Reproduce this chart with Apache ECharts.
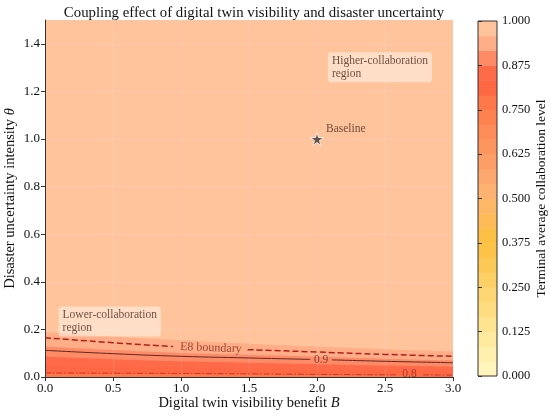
<!DOCTYPE html>
<html>
<head>
<meta charset="utf-8">
<script src="https://cdn.jsdelivr.net/npm/echarts@6/dist/echarts.min.js"></script>
<style>
  html, body { margin: 0; padding: 0; background: #fff; }
  #chart { width: 550px; height: 416px; }
</style>
</head>
<body>
<div id="chart"></div>
<script>
// colour levels of the filled contours, from 0.000 (bottom) to 1.000 (top), 24 bands
var cmapColors = [
  '#FFF5BD', '#FFF0AE', '#FEEA9F', '#FEE491', '#FEDD82', '#FED674',
  '#FDD066', '#FDC956', '#FDC248', '#FCC044', '#FDBC58', '#FDB766',
  '#FDB272', '#FDA86E', '#FD9E66', '#FD955E', '#FE8C58', '#FE8250',
  '#FF7849', '#FF6842', '#FF6A48', '#FF8A66', '#FFAE88', '#FFC49C'
];
var cbTicks = [0, 0.125, 0.25, 0.375, 0.5, 0.625, 0.75, 0.875, 1];
var xTicks = [0, 0.5, 1, 1.5, 2, 2.5, 3];
var yTicks = [0, 0.2, 0.4, 0.6, 0.8, 1.0, 1.2, 1.4];

// digital twin benefit B where the band edges were read
var benefitGrid = [0, 0.5, 1.0, 1.5, 2.0, 2.5, 3.0];
// theta of each filled-contour edge along benefitGrid
var edge958 = [0.188, 0.170, 0.154, 0.140, 0.128, 0.117, 0.108];
var edge917 = [0.128, 0.113, 0.101, 0.093, 0.085, 0.077, 0.070];
var edge875 = [0.085, 0.075, 0.066, 0.060, 0.054, 0.048, 0.043];
var edge833 = [0.050, 0.044, 0.039, 0.035, 0.031, 0.028, 0.025];
var edge792 = [0.014, 0.013, 0.012, 0.010, 0.008, 0.006, 0.005];

// contour lines [B, theta], '-' = gap left for the inline label
var lineE8 = [[0, 0.165], [0.5, 0.144], [0.94, 0.128], [1.2, '-'], [1.49, 0.115], [2.0, 0.105], [2.5, 0.095], [3.0, 0.087]];
var line09 = [[0, 0.112], [0.5, 0.098], [1.0, 0.087], [1.5, 0.080], [1.95, 0.074], [2.03, '-'], [2.11, 0.072], [2.5, 0.066], [3.0, 0.060]];
var line08 = [[0, 0.017], [0.5, 0.016], [1.0, 0.015], [1.5, 0.013], [2.0, 0.011], [2.58, 0.009], [2.68, '-'], [2.78, 0.009], [3.0, 0.008]];

var baseline = [2.0, 1.0];

var FONT = "'Liberation Serif', 'DejaVu Serif', serif";
var chart = echarts.init(document.getElementById('chart'));

function pairs(vals) {
  return benefitGrid.map(function (b, i) { return [b, vals[i]]; });
}

// area under each edge, painted top edge first so lower bands sit on top
var edges = [
  { v: edge958, band: 22 },
  { v: edge917, band: 21 },
  { v: edge875, band: 20 },
  { v: edge833, band: 19 },
  { v: edge792, band: 18 }
];
var bandSeries = edges.map(function (e) {
  return {
    type: 'line', xAxisIndex: 0, yAxisIndex: 0,
    data: pairs(e.v), smooth: true, symbol: 'none', silent: true,
    lineStyle: { width: 0 },
    areaStyle: { color: cmapColors[e.band], opacity: 1, origin: 'start' },
    z: 1
  };
});

var cbData = cmapColors.map(function (c, i) { return [i / cmapColors.length, (i + 1) / cmapColors.length]; });

var starPath = 'path://M50,0 L61,35 L98,35 L68,57 L79,91 L50,70 L21,91 L32,57 L2,35 L39,35 Z';

function noteLabel(text) {
  return {
    show: true, position: 'right', distance: 0,
    formatter: text,
    fontFamily: FONT, fontSize: 11.5, color: '#4a2a1e', lineHeight: 13,
    backgroundColor: 'rgba(255,255,255,0.55)', borderRadius: 3,
    padding: [2, 4, 2, 4]
  };
}

var nameStyle = {
  fontFamily: FONT, fontSize: 14.5, color: '#111',
  rich: { i: { fontFamily: FONT, fontSize: 14.5, fontStyle: 'italic', color: '#111' } }
};

var option = {
  animation: false,
  backgroundColor: '#fff',
  title: {
    text: 'Coupling effect of digital twin visibility and disaster uncertainty',
    left: 249, top: 1, textAlign: 'center',
    textStyle: { fontFamily: FONT, fontSize: 14.8, fontWeight: 'normal', color: '#111' }
  },
  grid: [
    { left: 45, right: 97, top: 20, bottom: 39, outerBoundsMode: 'none', containLabel: false,
      show: true, backgroundColor: cmapColors[23], borderWidth: 0 },
    { left: 478, width: 19, top: 21, bottom: 40, outerBoundsMode: 'none', containLabel: false,
      show: true, backgroundColor: 'transparent', borderColor: '#333', borderWidth: 1, z: 5 }
  ],
  xAxis: [
    {
      type: 'value', gridIndex: 0, min: 0, max: 3, interval: 0.5, z: 3,
      name: 'Digital twin visibility benefit {i|B}', nameLocation: 'middle', nameGap: 19, nameMoveOverlap: false,
      nameTextStyle: nameStyle,
      axisLine: { show: true, onZero: false, lineStyle: { color: '#333', width: 1 } },
      axisTick: { show: true, length: 4, lineStyle: { color: '#333' } },
      axisLabel: { fontFamily: FONT, fontSize: 13, color: '#111', margin: 5, formatter: function (v) { return v.toFixed(1); } },
      splitLine: { show: true, lineStyle: { color: 'rgba(255,255,255,0.16)', width: 0.8 } }
    },
    { type: 'value', gridIndex: 1, min: 0, max: 1, show: false }
  ],
  yAxis: [
    {
      type: 'value', gridIndex: 0, min: 0, max: 1.5, interval: 0.2, z: 3,
      name: 'Disaster uncertainty intensity {i|θ}', nameLocation: 'middle', nameGap: 27, nameMoveOverlap: false,
      nameTextStyle: nameStyle,
      axisLine: { show: true, onZero: false, lineStyle: { color: '#333', width: 1 } },
      axisTick: { show: true, length: 4, lineStyle: { color: '#333' }, customValues: yTicks },
      axisLabel: { fontFamily: FONT, fontSize: 13, color: '#111', margin: 5, customValues: yTicks, formatter: function (v) { return v.toFixed(1); } },
      splitLine: { show: true, lineStyle: { color: 'rgba(255,255,255,0.16)', width: 0.8 } }
    },
    {
      type: 'value', gridIndex: 1, min: 0, max: 1, interval: 0.125, position: 'right', z: 6,
      name: 'Terminal average collaboration level', nameLocation: 'middle', nameGap: 40, nameRotate: 90,
      nameTextStyle: { fontFamily: FONT, fontSize: 13.5, color: '#111', verticalAlign: 'middle' },
      axisLine: { show: false },
      axisTick: { show: true, length: 4, lineStyle: { color: '#333' } },
      axisLabel: { fontFamily: FONT, fontSize: 12.5, color: '#111', margin: 5, formatter: function (v) { return v.toFixed(3); } },
      splitLine: { show: false }
    }
  ],
  series: bandSeries.concat([
    {
      type: 'line', data: lineE8, smooth: true, symbol: 'none', silent: true, z: 4,
      lineStyle: { color: '#b3201c', width: 1.5, type: [6, 3] }
    },
    {
      type: 'line', data: line09, smooth: true, symbol: 'none', silent: true, z: 4,
      lineStyle: { color: '#5c2a26', width: 1 }
    },
    {
      type: 'line', data: line08, smooth: true, symbol: 'none', silent: true, z: 4,
      lineStyle: { color: '#c0392b', width: 1, type: [6, 2, 1.5, 2] }
    },
    {
      type: 'scatter', silent: true, z: 5, symbolSize: 0,
      data: [
        { value: [1.22, 0.122], label: { show: true, position: 'inside', formatter: 'E8 boundary', color: '#7e2418', fontFamily: FONT, fontSize: 12, rotate: -2 } },
        { value: [2.03, 0.073], label: { show: true, position: 'inside', formatter: '0.9', color: '#5c2a26', fontFamily: FONT, fontSize: 11.5 } },
        { value: [2.68, 0.011], label: { show: true, position: 'inside', formatter: '0.8', color: '#9c2a20', fontFamily: FONT, fontSize: 11.5 } }
      ]
    },
    {
      type: 'scatter', silent: true, z: 5, symbolSize: 0,
      data: [
        { value: [0.1, 0.233], label: noteLabel('Lower-collaboration\nregion') },
        { value: [2.08, 1.301], label: noteLabel('Higher-collaboration\nregion') }
      ]
    },
    {
      type: 'scatter', silent: true, z: 6,
      symbol: starPath, symbolSize: 13,
      itemStyle: { color: '#3f3636', borderColor: '#fff', borderWidth: 1 },
      label: { show: true, position: 'right', distance: 2, offset: [0, -10], formatter: 'Baseline', fontFamily: FONT, fontSize: 11.5, color: '#4a2a1e' },
      data: [baseline]
    },
    {
      type: 'custom', xAxisIndex: 1, yAxisIndex: 1, silent: true, z: 2,
      data: cbData,
      renderItem: function (params, api) {
        var p0 = api.coord([0, api.value(1)]);
        var p1 = api.coord([1, api.value(0)]);
        return {
          type: 'rect',
          shape: { x: p0[0], y: p0[1], width: p1[0] - p0[0], height: p1[1] - p0[1] + 0.5 },
          style: { fill: cmapColors[params.dataIndex] }
        };
      }
    }
  ])
};
chart.setOption(option);
</script>
</body>
</html>
